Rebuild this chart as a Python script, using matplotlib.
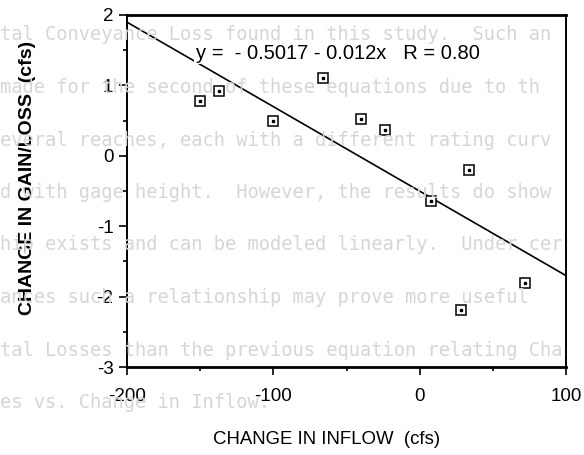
import numpy as np
import matplotlib
matplotlib.use("Agg")
import matplotlib.pyplot as plt
from matplotlib.ticker import MultipleLocator

plt.rcParams["axes.unicode_minus"] = False

# data
inflow_change = [-150, -137, -100, -66, -40, -24, 8, 34, 28, 72]
gain_loss_change = [0.78, 0.92, 0.50, 1.10, 0.52, 0.37, -0.64, -0.20, -2.19, -1.80]

intercept = -0.5017
slope = -0.012
r_value = 0.80

x_ticks = [-200, -100, 0, 100]
y_ticks = [2, 1, 0, -1, -2, -3]

# faint bleed-through of the page behind the figure
page_lines = [
    "tal Conveyance Loss found in this study.  Such an",
    "made for the second of these equations due to th",
    "everal reaches, each with a different rating curv",
    "d with gage height.  However, the results do show",
    "hip exists and can be modeled linearly.  Under cer",
    "ances such a relationship may prove more useful",
    "tal Losses than the previous equation relating Cha",
    "es vs. Change in Inflow.",
]

fig = plt.figure(figsize=(5.84, 4.55), dpi=100)
fig.patch.set_facecolor("white")

for i, line in enumerate(page_lines):
    fig.text(0.0, 1 - (35 + 52.5 * i) / 455, line, fontsize=13.5,
             family="DejaVu Sans Mono", color="#d6d6d6", va="center", ha="left",
             zorder=0)

ax = fig.add_axes([127 / 584, 1 - 367 / 455, (566 - 127) / 584, (367 - 15) / 455])
ax.patch.set_alpha(0)

ax.set_xlim(-200, 100)
ax.set_ylim(-3, 2)

# regression line
xl = np.array([-200, 100])
ax.plot(xl, intercept + slope * xl, color="black", lw=1.2, zorder=2)

# points: open squares with a dot in the middle
ax.plot(inflow_change, gain_loss_change, ls="none", marker="s", ms=7,
        mfc="white", mec="black", mew=1.1, zorder=3)
ax.plot(inflow_change, gain_loss_change, ls="none", marker="s", ms=1.5,
        mfc="black", mec="black", zorder=4)

ax.text(-153, 1.46, "y =  - 0.5017 - 0.012x   R = %.2f" % r_value,
        fontsize=14.5, family="Liberation Sans", va="center", ha="left",
        bbox=dict(facecolor="white", edgecolor="none", pad=1), zorder=5)

ax.set_xticks(x_ticks)
ax.set_yticks(y_ticks)
ax.xaxis.set_minor_locator(MultipleLocator(50))
ax.yaxis.set_minor_locator(MultipleLocator(0.5))
ax.tick_params(which="major", direction="out", length=5.8, width=1.2,
               labelsize=13.5)
ax.tick_params(which="minor", direction="out", length=3, width=1.2)
ax.tick_params(axis="x", which="major", pad=9.5)
ax.tick_params(axis="y", which="major", pad=4)
for lab in ax.get_xticklabels() + ax.get_yticklabels():
    lab.set_family("Liberation Sans")

for side in ["left", "right"]:
    ax.spines[side].set_linewidth(1.4)
for side in ["top", "bottom"]:
    ax.spines[side].set_linewidth(2.0)

ax.set_xlabel("CHANGE IN INFLOW  (cfs)", fontsize=13.4, family="Liberation Sans")
ax.xaxis.set_label_coords((327 - 127) / 439, -(440 - 367) / 352)
ax.xaxis.label.set_va("center")
ax.set_ylabel("CHANGE IN GAIN/LOSS  (cfs)", fontsize=14, family="Liberation Sans",
              fontweight="bold")
ax.yaxis.set_label_coords(-(127 - 28) / 439, 1 - (178 - 15) / 352)
ax.yaxis.label.set_va("center")

fig.savefig("out.png", dpi=100)
